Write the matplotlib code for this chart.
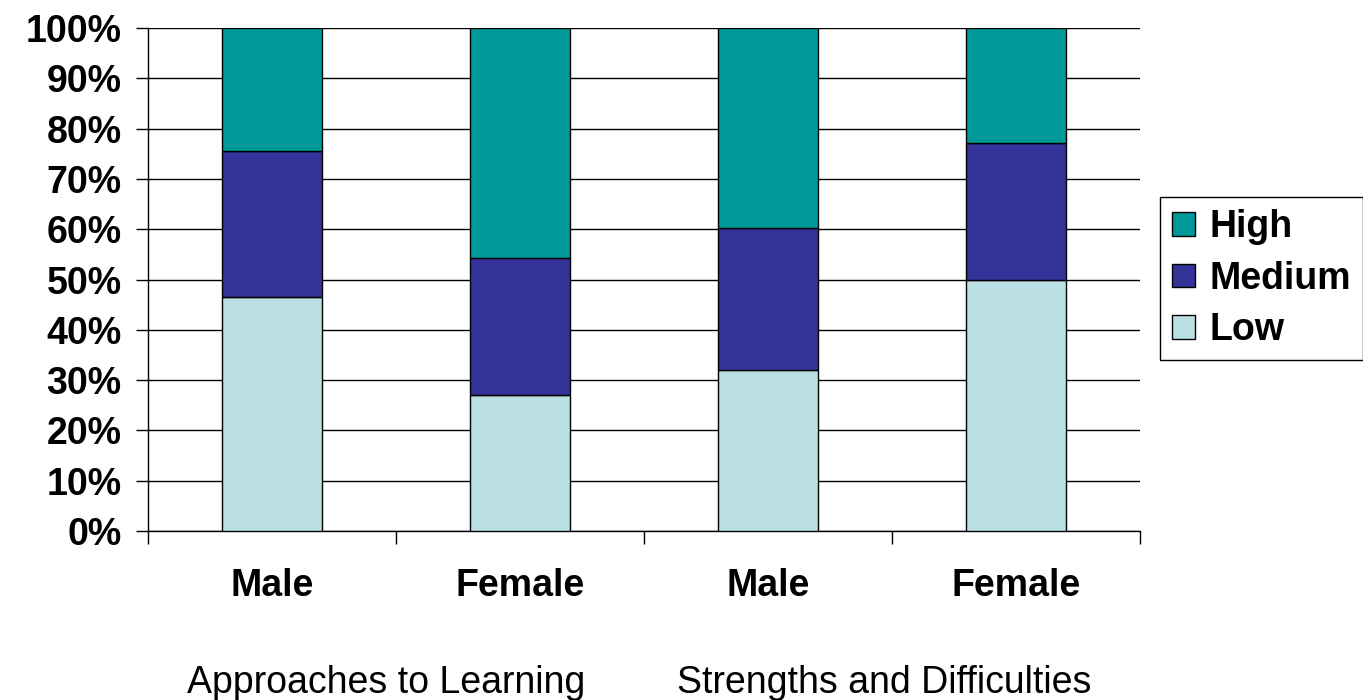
import matplotlib.pyplot as plt
from matplotlib.ticker import FixedLocator, FuncFormatter

# percentages per group, bottom to top
groups = ["Male", "Female", "Male", "Female"]
low = [46.6, 27.0, 32.1, 50.0]
medium = [28.9, 27.3, 28.2, 27.2]
high = [24.5, 45.7, 39.7, 22.8]
scales = ["Approaches to Learning", "Strengths and Difficulties"]

c_low = "#bbe0e3"
c_med = "#333399"
c_high = "#009999"

fam = ["Liberation Sans", "DejaVu Sans"]

fig = plt.figure(figsize=(13.63, 7), dpi=100)
ax = fig.add_axes([148/1363, 169/700, 992/1363, 503/700])

x = list(range(len(groups)))
w = 0.403
top_base = [l + m for l, m in zip(low, medium)]
b1 = ax.bar(x, low, w, color=c_low, edgecolor="black", linewidth=1, zorder=3)
b2 = ax.bar(x, medium, w, bottom=low, color=c_med, edgecolor="black", linewidth=1, zorder=3)
b3 = ax.bar(x, high, w, bottom=top_base, color=c_high, edgecolor="black", linewidth=1, zorder=3)

ax.set_xlim(-0.5, len(groups) - 0.5)
ax.set_ylim(0, 100)
ax.set_yticks(range(0, 101, 10))
ax.yaxis.set_major_formatter(FuncFormatter(lambda v, p: "%d%%" % v))
ax.grid(axis="y", color="black", linewidth=1, zorder=0)

ax.set_xticks(x)
ax.set_xticklabels(groups)
ax.xaxis.set_minor_locator(FixedLocator([i - 0.5 for i in range(len(groups) + 1)]))
ax.tick_params(axis="x", which="major", length=0, pad=27)
ax.tick_params(axis="x", which="minor", length=9, width=1, direction="out")
ax.tick_params(axis="y", length=9, width=1, direction="out", pad=10)
for lab in ax.get_xticklabels() + ax.get_yticklabels():
    lab.set_fontsize(27)
    lab.set_fontfamily(fam)
    lab.set_fontweight("bold")

for s in ["top", "right"]:
    ax.spines[s].set_visible(False)
for s in ["left", "bottom"]:
    ax.spines[s].set_linewidth(1)

leg = fig.legend([b3, b2, b1], ["High", "Medium", "Low"],
                 loc="upper left", bbox_to_anchor=(1160/1363, 1 - 197/700),
                 bbox_transform=fig.transFigure, borderaxespad=0,
                 fancybox=False, edgecolor="black", framealpha=1,
                 prop=dict(size=27, weight="bold", family=fam),
                 handlelength=0.6, handleheight=0.6, handletextpad=0.4,
                 labelspacing=0.42, borderpad=0.32)
leg.get_frame().set_linewidth(1)

# scale names under each pair of bars
fig.text(187/1363, 7/700, scales[0], fontsize=27, family=fam, ha="left", va="baseline")
fig.text(677/1363, 7/700, scales[1], fontsize=27, family=fam, ha="left", va="baseline")

fig.savefig("out.png", dpi=100)
